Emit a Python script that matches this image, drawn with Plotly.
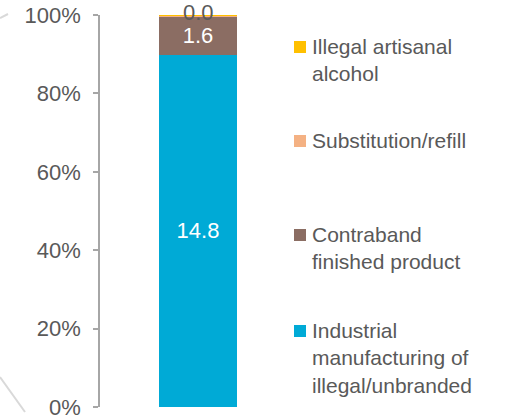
import plotly.graph_objects as go

# Illicit alcohol by source (volume), shown as a 100% stacked column
categories = ["Illicit"]
series_names = [
    "Industrial<br>manufacturing of<br>illegal/unbranded",
    "Contraband<br>finished product",
    "Substitution/refill",
    "Illegal artisanal<br>alcohol",
]
series_values = [14.8, 1.6, 0.04, 0.04]
series_colors = ["#00AAD6", "#8B6D63", "#F4B183", "#FFC000"]
tick_values = [0, 0.2, 0.4, 0.6, 0.8, 1.0]

W, H = 510, 419
ML, MR, MT, MB = 100, 214, 15, 12
PW, PH = W - ML - MR, H - MT - MB

FONT = "Arial, Liberation Sans, sans-serif"
GREY_TEXT = "#595959"


def xp(px):
    return (px - ML) / PW


def yp(py):
    return (H - MB - py) / PH


total = sum(series_values)
fig = go.Figure()
for i, (name, val, col) in enumerate(zip(series_names, series_values, series_colors)):
    big = val / total > 0.05
    fig.add_trace(go.Bar(
        x=categories, y=[val], name=name.replace("<br>", " "),
        marker=dict(color=col, line=dict(width=0)),
        text=[val], texttemplate="%{text:.1f}",
        textposition="inside" if big else "none",
        insidetextanchor="middle",
        textfont=dict(color="white", size=22, family=FONT),
        width=0.4, showlegend=False, hoverinfo="skip",
    ))

# value label for the thin segments at the top of the stack
fig.add_annotation(
    x=categories[0], y=1.0, xref="x", yref="y", yshift=3,
    text=f"{series_values[-1]:.1f}", showarrow=False, yanchor="middle",
    font=dict(color=GREY_TEXT, size=22, family=FONT),
)

# legend: square swatch beside each (wrapped) series name, top series first
legend_rows = [47, 141, 235, 331]
for row_y, name, col in zip(legend_rows, series_names[::-1], series_colors[::-1]):
    fig.add_shape(type="rect", xref="paper", yref="paper",
                  x0=xp(294), x1=xp(306), y0=yp(row_y + 6), y1=yp(row_y - 6),
                  fillcolor=col, line=dict(width=0))
    fig.add_annotation(
        x=xp(310), y=yp(row_y - 14), xref="paper", yref="paper",
        text=name, showarrow=False, xanchor="left", yanchor="top", align="left",
        font=dict(color=GREY_TEXT, size=21, family=FONT),
    )

# faint background strokes at the left edge
for (ax, ay, bx, by) in [(0, 18, 8, 14), (0, 377, 25, 412)]:
    fig.add_shape(type="line", xref="paper", yref="paper",
                  x0=xp(ax), y0=yp(ay), x1=xp(bx), y1=yp(by),
                  line=dict(color="#D9D9D9", width=2))

fig.update_layout(
    barmode="stack", barnorm="fraction",
    width=W, height=H,
    margin=dict(l=ML, r=MR, t=MT, b=MB, autoexpand=False),
    paper_bgcolor="white", plot_bgcolor="white",
    font=dict(family=FONT, color=GREY_TEXT),
    xaxis=dict(visible=False),
    yaxis=dict(
        range=[0, 1], tickvals=tick_values, tickformat=".0%",
        showgrid=False, zeroline=False, automargin=False,
        showline=True, linecolor="#A6A6A6", linewidth=1.5,
        ticks="outside", ticklen=5, tickcolor="#A6A6A6", tickwidth=1.5,
        tickfont=dict(size=22, color=GREY_TEXT, family=FONT),
        ticklabelstandoff=8, ticklabeloverflow="allow",
    ),
)

fig.write_html("out.html")
